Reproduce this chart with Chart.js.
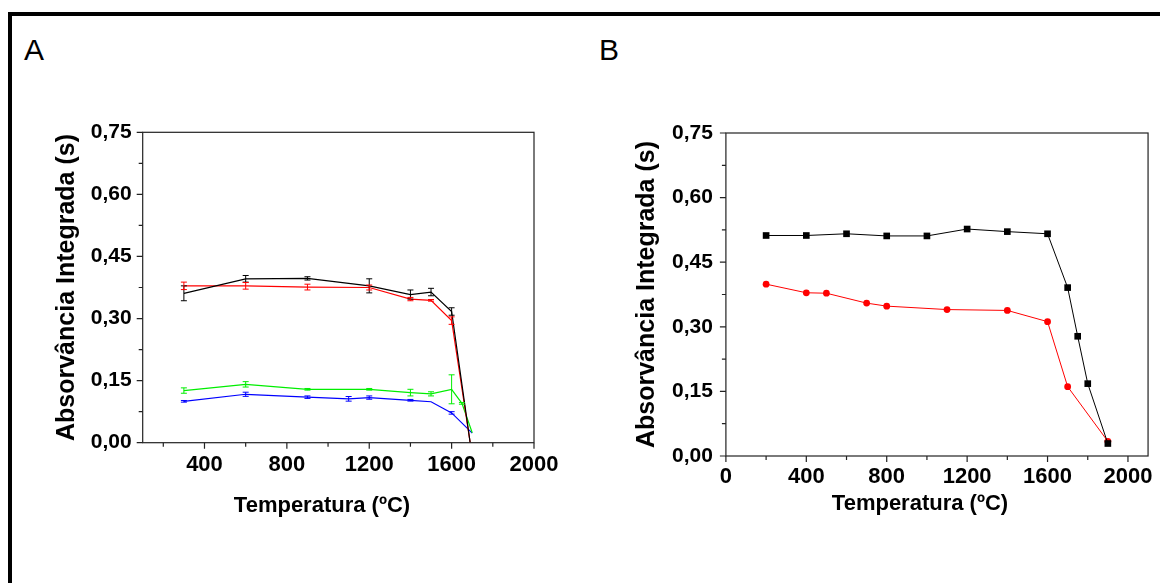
<!DOCTYPE html>
<html>
<head>
<meta charset="utf-8">
<script src="https://cdn.jsdelivr.net/npm/chart.js@4.4.0/dist/chart.umd.min.js"></script>
<style>
  html, body { margin: 0; padding: 0; background: #fff; }
  body { width: 1160px; height: 583px; position: relative; overflow: hidden; font-family: "Liberation Sans", Arial, sans-serif; }
  .borde-sup { position: absolute; left: 8px; top: 12px; width: 1152px; height: 4px; background: #000; }
  .borde-izq { position: absolute; left: 8px; top: 12px; width: 4px; height: 571px; background: #000; }
  .letra { position: absolute; font-size: 30px; line-height: 30px; color: #000; }
  .panel { position: absolute; top: 0; }
</style>
</head>
<body>
<div class="borde-sup"></div>
<div class="borde-izq"></div>
<div class="letra" style="left:24px; top:35px;">A</div>
<div class="letra" style="left:599px; top:35px;">B</div>
<canvas id="graficaA" class="panel" style="left:0" width="580" height="583"></canvas>
<canvas id="graficaB" class="panel" style="left:580px" width="580" height="583"></canvas>
<script>
(function() {

    const fuente = "'Liberation Sans', Arial, Helvetica, sans-serif";

    // Panel A (con barras de error)
    const tempA = [300, 600, 900, 1200, 1400, 1500, 1600, 1690];
    const absNegroA = [0.361, 0.396, 0.397, 0.379, 0.358, 0.364, 0.317, 0];
    const errNegroA = [0.018, 0.008, 0.004, 0.017, 0.011, 0.009, 0.009, 0];
    const absRojoA = [0.379, 0.379, 0.376, 0.375, 0.347, 0.344, 0.295, 0];
    const errRojoA = [0.009, 0.008, 0.007, 0.006, 0.004, 0.002, 0.009, 0];
    const tempVerdeA = [300, 600, 900, 1200, 1400, 1500, 1600, 1650, 1700];
    const absVerdeA = [0.126, 0.141, 0.129, 0.129, 0.121, 0.118, 0.129, 0.095, 0.024];
    const errVerdeA = [0.0065, 0.0065, 0.002, 0.002, 0.008, 0.005, 0.035, 0.002, 0];
    const tempAzulA = [300, 600, 900, 1100, 1200, 1400, 1500, 1600, 1700];
    const absAzulA = [0.100, 0.117, 0.110, 0.106, 0.109, 0.1025, 0.099, 0.072, 0.023];
    const errAzulA = [0.002, 0.005, 0.003, 0.0056, 0.004, 0.002, 0, 0.003, 0];

    // Panel B
    const tempNegroB = [200, 400, 600, 800, 1000, 1200, 1400, 1600, 1700, 1750, 1800, 1900];
    const absNegroB = [0.512, 0.512, 0.516, 0.511, 0.511, 0.527, 0.521, 0.516, 0.391, 0.278, 0.168, 0.029];
    const tempRojoB = [200, 400, 500, 700, 800, 1100, 1400, 1600, 1700, 1900];
    const absRojoB = [0.399, 0.379, 0.378, 0.355, 0.348, 0.340, 0.338, 0.312, 0.161, 0.034];

    // Ticks
    const ticksY = [0, 0.15, 0.30, 0.45, 0.60, 0.75];
    const ticksMenoresY = [0.075, 0.225, 0.375, 0.525, 0.675];
    const ticksXA = [400, 800, 1200, 1600, 2000];
    const ticksXB = [0, 400, 800, 1200, 1600, 2000];
    const ticksMenoresX = [200, 600, 1000, 1400, 1800];

    const tituloX = 'Temperatura (ºC)';
    const tituloY = 'Absorvância Integrada (s)';

    const puntos = (xs, ys) => xs.map((x, i) => ({ x: x, y: ys[i] }));

    // marco, ticks, barras de error y titulo del eje x
    const ejesOrigin = {
        id: 'ejesOrigin',
        afterDatasetsDraw(chart, args, opts) {
            const { ctx, chartArea: a, scales: { x, y } } = chart;
            ctx.save();

            chart.data.datasets.forEach((ds, i) => {
                if (!ds.errores) return;
                const meta = chart.getDatasetMeta(i);
                ctx.strokeStyle = ds.borderColor;
                ctx.lineWidth = 1;
                ds.data.forEach((p, j) => {
                    const e = ds.errores[j];
                    if (!e) return;
                    const px = meta.data[j].x;
                    const y1 = y.getPixelForValue(p.y + e);
                    const y2 = y.getPixelForValue(p.y - e);
                    ctx.beginPath();
                    ctx.moveTo(px, y1); ctx.lineTo(px, y2);
                    ctx.moveTo(px - 3, y1); ctx.lineTo(px + 3, y1);
                    ctx.moveTo(px - 3, y2); ctx.lineTo(px + 3, y2);
                    ctx.stroke();
                });
            });

            ctx.strokeStyle = '#222';
            ctx.lineWidth = 1.2;
            ctx.strokeRect(a.left, a.top, a.right - a.left, a.bottom - a.top);

            ctx.beginPath();
            opts.xMayores.forEach(v => { const px = x.getPixelForValue(v); ctx.moveTo(px, a.bottom); ctx.lineTo(px, a.bottom + 6); });
            opts.xMenores.forEach(v => { const px = x.getPixelForValue(v); ctx.moveTo(px, a.bottom); ctx.lineTo(px, a.bottom + 4); });
            ticksY.forEach(v => { const py = y.getPixelForValue(v); ctx.moveTo(a.left, py); ctx.lineTo(a.left - 6, py); });
            ticksMenoresY.forEach(v => { const py = y.getPixelForValue(v); ctx.moveTo(a.left, py); ctx.lineTo(a.left - 4, py); });
            ctx.stroke();

            ctx.fillStyle = '#000';
            ctx.font = 'bold 22px ' + fuente;
            ctx.textAlign = 'center';
            ctx.textBaseline = 'alphabetic';
            ctx.fillText(tituloX, opts.tituloXx, opts.tituloXy);
            ctx.restore();
        }
    };

    function opciones(cfg) {
        return {
            responsive: false,
            animation: false,
            layout: { padding: { left: 40, top: cfg.top, right: cfg.right, bottom: 0 } },
            plugins: {
                legend: { display: false },
                tooltip: { enabled: false },
                ejesOrigin: cfg.ejes
            },
            scales: {
                x: {
                    type: 'linear',
                    min: cfg.xMin,
                    max: cfg.xMax,
                    afterBuildTicks: s => { s.ticks = cfg.xTicks.map(v => ({ value: v })); },
                    afterFit: s => { s.height = cfg.altoX; },
                    grid: { display: false, drawTicks: false },
                    border: { display: false },
                    ticks: {
                        padding: cfg.padX,
                        color: '#000',
                        autoSkip: false,
                        maxRotation: 0,
                        font: { family: fuente, size: 22, weight: 'bold' },
                        callback: v => String(v)
                    }
                },
                y: {
                    min: 0,
                    max: 0.75,
                    afterBuildTicks: s => { s.ticks = ticksY.map(v => ({ value: v })); },
                    afterFit: s => { s.width = cfg.anchoY; },
                    grid: { display: false, drawTicks: false },
                    border: { display: false },
                    ticks: {
                        padding: cfg.padY,
                        color: '#000',
                        font: { family: fuente, size: 21, weight: 'bold' },
                        callback: v => v.toFixed(2).replace('.', ',')
                    },
                    title: {
                        display: true,
                        text: tituloY,
                        color: '#000',
                        padding: { top: 12.4, bottom: 0 },
                        font: { family: fuente, size: 25, weight: 'bold' }
                    }
                }
            }
        };
    }

    new Chart(document.querySelector('#graficaA'), {
        type: 'scatter',
        data: {
            datasets: [
                { data: puntos(tempA, absNegroA), errores: errNegroA, borderColor: '#000000', borderWidth: 1.2, pointRadius: 0, showLine: true },
                { data: puntos(tempA, absRojoA), errores: errRojoA, borderColor: '#ff0000', borderWidth: 1.2, pointRadius: 0, showLine: true },
                { data: puntos(tempVerdeA, absVerdeA), errores: errVerdeA, borderColor: '#00ee00', borderWidth: 1.2, pointRadius: 0, showLine: true },
                { data: puntos(tempAzulA, absAzulA), errores: errAzulA, borderColor: '#0000ff', borderWidth: 1.2, pointRadius: 0, showLine: true }
            ]
        },
        options: opciones({
            top: 132.3, right: 46, xMin: 100, xMax: 2000, xTicks: ticksXA,
            altoX: 583 - 442.7, anchoY: 102.7, padX: 9, padY: 11,
            ejes: { xMayores: ticksXA, xMenores: ticksMenoresX, tituloXx: 322, tituloXy: 511.5 }
        }),
        plugins: [ejesOrigin]
    });

    new Chart(document.querySelector('#graficaB'), {
        type: 'scatter',
        data: {
            datasets: [
                { data: puntos(tempNegroB, absNegroB), borderColor: '#000000', backgroundColor: '#000000', borderWidth: 1, pointStyle: 'rect', pointRadius: 4.7, pointBorderWidth: 0, showLine: true },
                { data: puntos(tempRojoB, absRojoB), borderColor: '#ff0000', backgroundColor: '#ff0000', borderWidth: 1, pointStyle: 'circle', pointRadius: 3.4, pointBorderWidth: 0, showLine: true }
            ]
        },
        options: opciones({
            top: 133, right: 5.7, xMin: 0, xMax: 2100, xTicks: ticksXB,
            altoX: 583 - 456, anchoY: 105.9, padX: 7.3, padY: 13,
            ejes: { xMayores: ticksXB, xMenores: ticksMenoresX, tituloXx: 340, tituloXy: 510 }
        }),
        plugins: [ejesOrigin]
    });

})();
</script>
</body>
</html>
